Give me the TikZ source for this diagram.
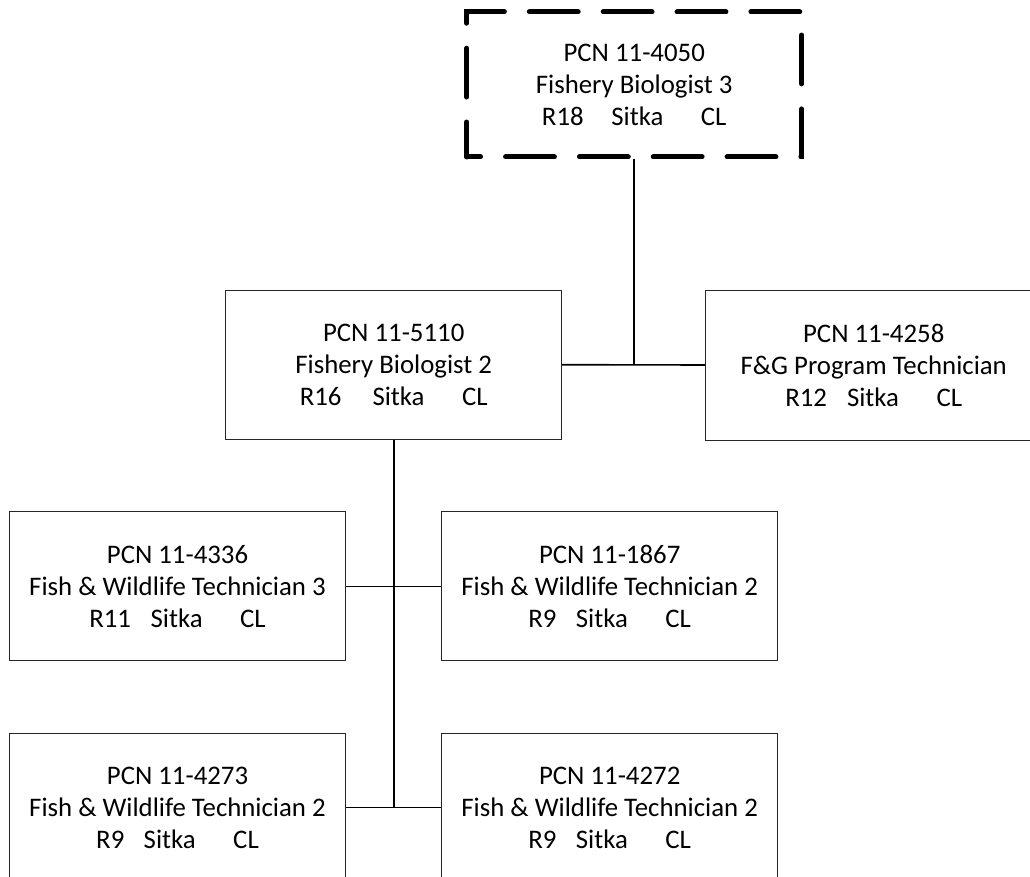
\documentclass[tikz,border=0pt]{standalone}
\usepackage{fontspec}
\setmainfont{Carlito}
\newcommand\infoline[2]{#1\hspace{#2}Sitka\hspace{37.5pt}CL}
\begin{document}
\begin{tikzpicture}[x=1pt,y=-1pt,
  posbox/.style={draw=black!85, line width=1pt, rectangle, minimum width=336pt, minimum height=149pt,
    inner sep=0pt, align=center, font=\fontsize{26.8}{32}\selectfont},
  leadbox/.style={posbox, draw=black, line width=5pt, minimum width=335pt, minimum height=145pt,
    dash pattern=on 48.85pt off 25pt, dash phase=35pt, line cap=round},
  link/.style={draw=black, line width=1.6pt}]
\clip (0,0) rectangle (1030,877);
\fill[white] (0,0) rectangle (1030,877);
\node[leadbox] (top) at (634.2,84.5) {PCN 11-4050\\Fishery Biologist 3\\\infoline{R18}{27.7pt}};
\node[posbox] (bio) at (393.7,364.7) {PCN 11-5110\\Fishery Biologist 2\\\infoline{R16}{31pt}};
\node[posbox, minimum height=150pt] (prog) at (873.7,365) {PCN 11-4258\\F\&G Program Technician\\\infoline{R12}{20pt}};
\node[posbox] (t3) at (177.5,586.3) {PCN 11-4336\\Fish \& Wildlife Technician 3\\\infoline{R11}{19.7pt}};
\node[posbox] (t1867) at (609.7,586.3) {PCN 11-1867\\Fish \& Wildlife Technician 2\\\infoline{R9}{19.4pt}};
\node[posbox] (t4273) at (177.5,807.6) {PCN 11-4273\\Fish \& Wildlife Technician 2\\\infoline{R9}{19.4pt}};
\node[posbox] (t4272) at (609.7,807.6) {PCN 11-4272\\Fish \& Wildlife Technician 2\\\infoline{R9}{19.4pt}};
\coordinate (j1) at (top.south |- bio.east);
\coordinate (j2) at (bio.south |- t3.east);
\coordinate (j3) at (bio.south |- t4273.east);
\draw[link] (top.south) -- (j1);
\draw[link] (bio.east) -- (prog.west);
\draw[link] (bio.south) -- (j3);
\draw[link] (t3.east) -- (t1867.west);
\draw[link] (t4273.east) -- (t4272.west);
\end{tikzpicture}
\end{document}
